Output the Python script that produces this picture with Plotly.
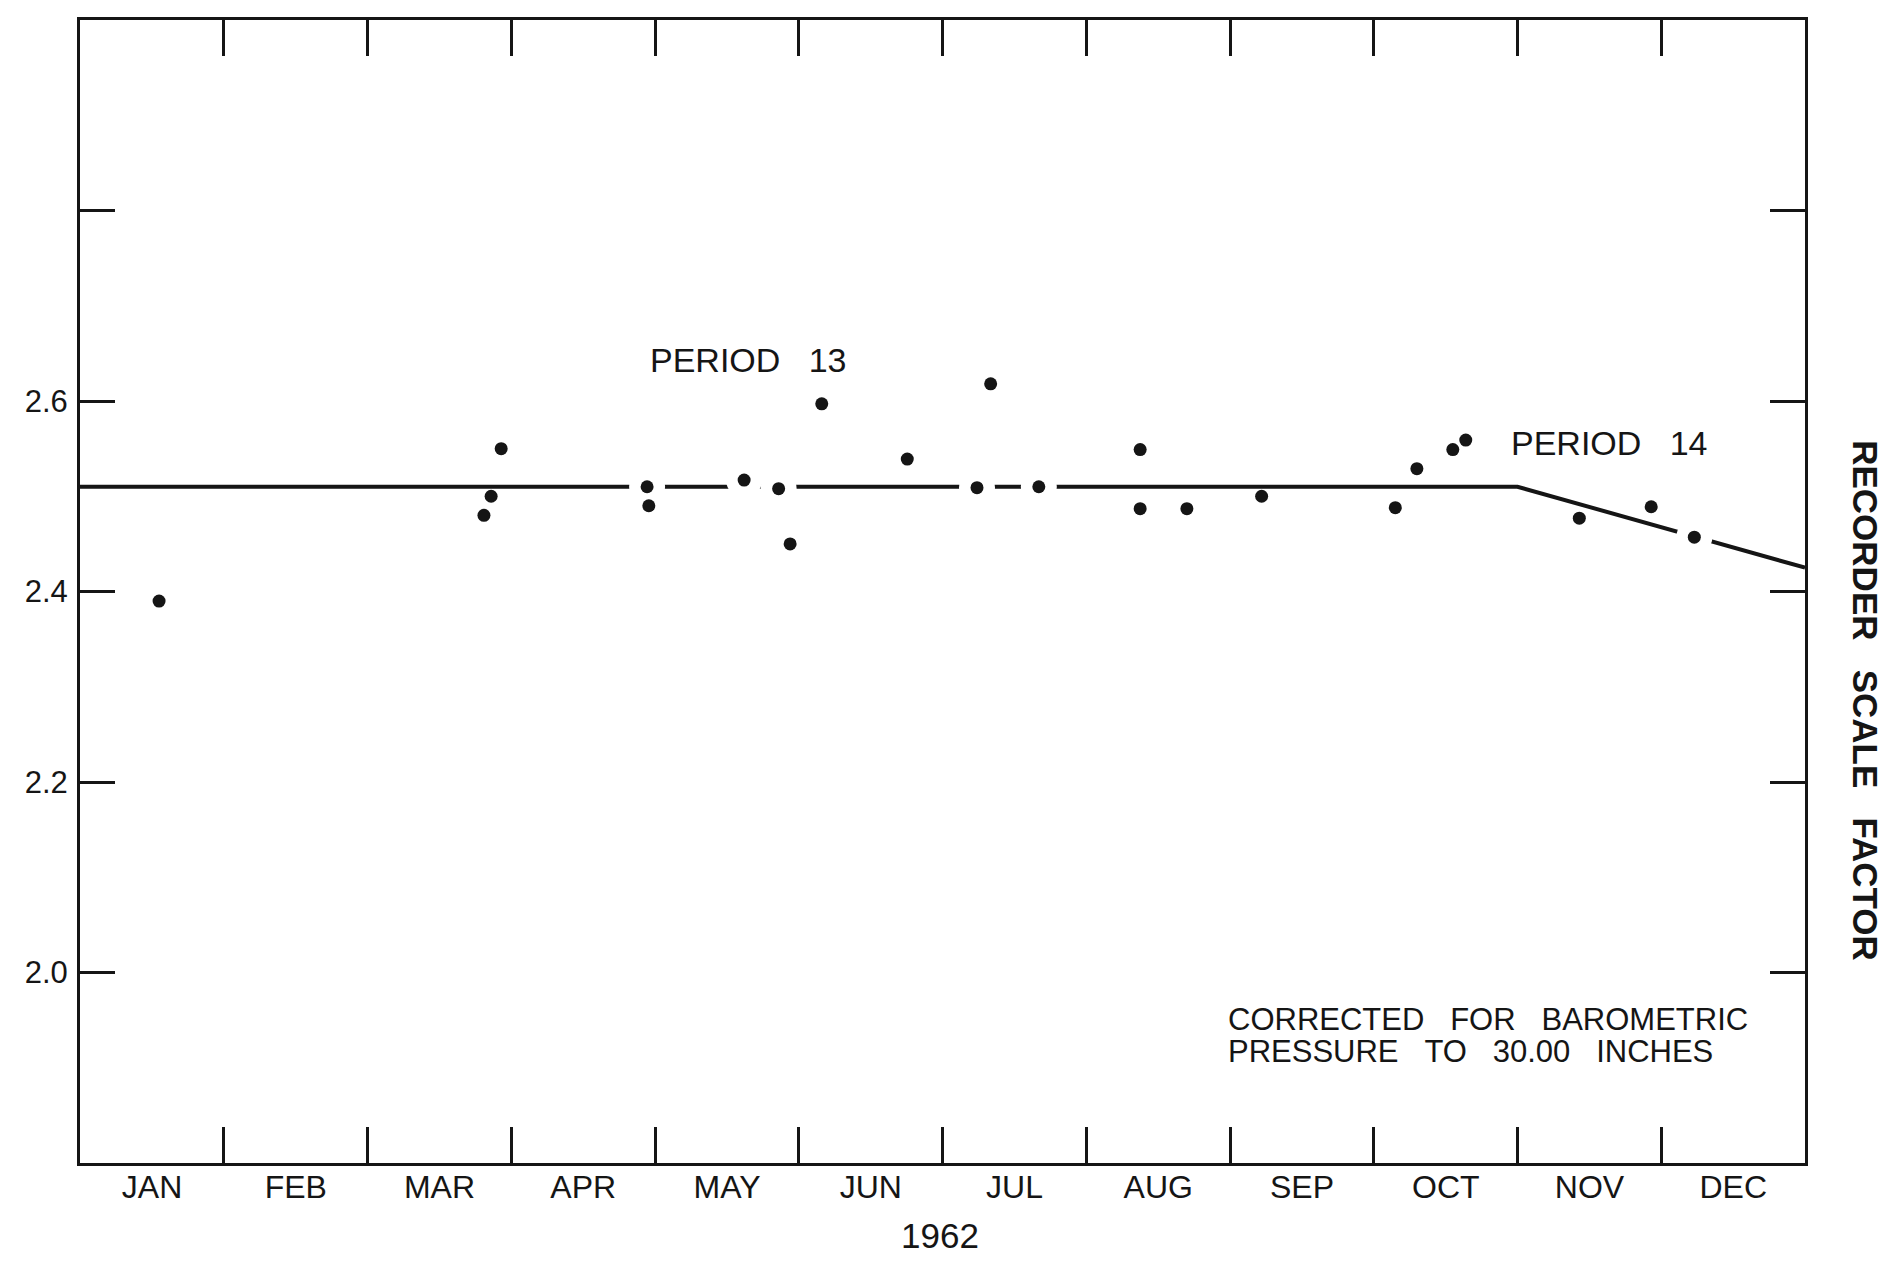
import numpy as np
import plotly.graph_objects as go

# ---- data (x in months since 1 Jan 1962) ----
months = ["JAN", "FEB", "MAR", "APR", "MAY", "JUN", "JUL", "AUG", "SEP", "OCT", "NOV", "DEC"]
month_starts = list(range(12))

obs_month = [0.55, 2.81, 2.86, 2.93, 3.945, 3.957, 4.62, 4.86, 4.94, 5.16, 5.755,
             6.24, 6.335, 6.67, 7.375, 7.375, 7.70, 8.22, 9.15, 9.30, 9.55, 9.64,
             10.43, 10.93, 11.23]
obs_factor = [2.39, 2.48, 2.50, 2.55, 2.51, 2.49, 2.517, 2.508, 2.45, 2.597, 2.539,
              2.509, 2.618, 2.51, 2.549, 2.487, 2.487, 2.50, 2.488, 2.529, 2.549, 2.559,
              2.477, 2.489, 2.457]

fit_month = [0, 10, 12]
fit_factor = [2.51, 2.51, 2.425]

y_ticks = [2.0, 2.2, 2.4, 2.6, 2.8]
y_ticktext = ["2.0", "2.2", "2.4", "2.6", ""]

# points lying on the drawn line get a drafting gap around them
obs_x = np.array(obs_month)
obs_y = np.array(obs_factor)
on_line = np.abs(obs_y - np.interp(obs_x, fit_month, fit_factor)) < 0.009

INK = "#151515"
FONT = "Liberation Sans, Arial, sans-serif"
NB = "\u00a0"

# page has an 8px body margin; figure sized so plot box lands at x 80..1805, y 17..1163
BODY = 8
W, H = 1887 - BODY, 1261 - BODY
ML, MR, MT, MB = 80 - BODY, 82, 17 - BODY, 98
PW, PH = W - ML - MR, H - MT - MB

def px_to_paper(px, py):
    fx, fy = px - BODY, py - BODY
    return (fx - ML) / PW, (H - MB - fy) / PH

fig = go.Figure()
fig.add_trace(go.Scatter(x=fit_month, y=fit_factor, mode="lines",
                         line=dict(color=INK, width=4), hoverinfo="skip", showlegend=False))
fig.add_trace(go.Scatter(x=obs_x[on_line], y=obs_y[on_line], mode="markers",
                         marker=dict(color="white", size=36, line=dict(width=0)),
                         hoverinfo="skip", showlegend=False))
fig.add_trace(go.Scatter(x=obs_x, y=obs_y, mode="markers",
                         marker=dict(color=INK, size=13, line=dict(width=0)),
                         showlegend=False))

axis_common = dict(showgrid=False, zeroline=False, showline=True, linecolor=INK, linewidth=3,
                   mirror="ticks", ticks="inside", tickcolor=INK, tickwidth=3)

fig.update_xaxes(range=[0, 12], tickmode="array", tickvals=month_starts, ticktext=months,
                 ticklen=36, ticklabelshift=72, ticklabelstandoff=-6,
                 tickfont=dict(family=FONT, size=32, color=INK), **axis_common)
fig.update_yaxes(range=[1.8, 3.0], tickmode="array", tickvals=y_ticks, ticktext=y_ticktext,
                 ticklen=35, ticklabelstandoff=3,
                 tickfont=dict(family=FONT, size=31, color=INK), **axis_common)

def note(text, x, y, size):
    fig.add_annotation(text=text, x=x, y=y, xref="x", yref="y", showarrow=False,
                       xanchor="left", yanchor="middle",
                       font=dict(family=FONT, size=size, color=INK))

note("PERIOD" + NB * 3 + "13", 3.95, 2.643, 34)
note("PERIOD" + NB * 3 + "14", 9.94, 2.556, 34)
note("CORRECTED" + NB * 3 + "FOR" + NB * 3 + "BAROMETRIC", 7.97, 1.9505, 31)
note("PRESSURE" + NB * 3 + "TO" + NB * 3 + "30.00" + NB * 3 + "INCHES", 7.97, 1.917, 31)

yx, yy = px_to_paper(940, 1236)
fig.add_annotation(text="1962", x=yx, y=yy, xref="paper", yref="paper", showarrow=False,
                   xanchor="center", yanchor="middle", borderpad=0,
                   font=dict(family=FONT, size=35, color=INK))
rx, ry = px_to_paper(1866, 700)
fig.add_annotation(text="<b>RECORDER" + NB * 3 + "SCALE" + NB * 3 + "FACTOR</b>",
                   textangle=90, showarrow=False, xref="paper", yref="paper",
                   x=rx, y=ry, xanchor="center", yanchor="middle",
                   font=dict(family=FONT, size=35, color=INK))

fig.update_layout(width=W, height=H, paper_bgcolor="white", plot_bgcolor="white",
                  margin=dict(l=ML, r=MR, t=MT, b=MB), showlegend=False)

fig.write_html("out.html")
